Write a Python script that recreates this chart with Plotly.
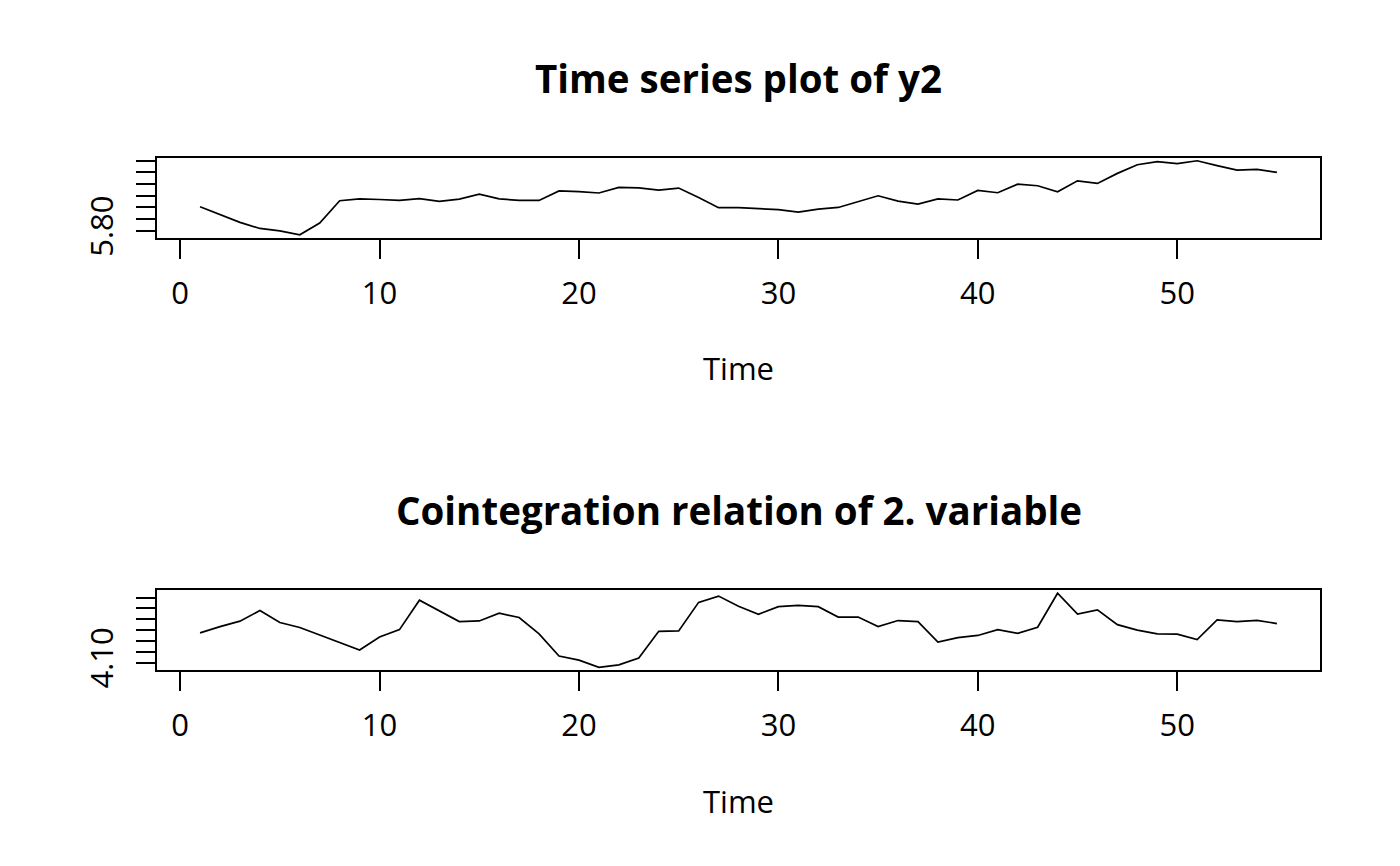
import plotly.graph_objects as go

# time index 1..55
time_idx = list(range(1, 56))

# series
y2 = [5.903, 5.869, 5.836, 5.810, 5.800, 5.783, 5.833, 5.929, 5.937, 5.934,
      5.930, 5.938, 5.926, 5.936, 5.957, 5.937, 5.930, 5.930, 5.971, 5.968,
      5.962, 5.986, 5.984, 5.974, 5.983, 5.943, 5.899, 5.899, 5.896, 5.891,
      5.880, 5.893, 5.900, 5.924, 5.950, 5.927, 5.914, 5.937, 5.932, 5.973,
      5.963, 6.000, 5.993, 5.967, 6.014, 6.003, 6.046, 6.083, 6.096, 6.088,
      6.100, 6.079, 6.060, 6.063, 6.050]

coint2 = [4.237, 4.266, 4.291, 4.340, 4.285, 4.262, 4.227, 4.194, 4.158, 4.218,
          4.252, 4.388, 4.338, 4.289, 4.292, 4.328, 4.308, 4.232, 4.130, 4.111,
          4.078, 4.089, 4.121, 4.244, 4.246, 4.378, 4.407, 4.360, 4.323, 4.358,
          4.364, 4.358, 4.310, 4.310, 4.266, 4.294, 4.289, 4.194, 4.215, 4.225,
          4.252, 4.235, 4.263, 4.420, 4.324, 4.343, 4.275, 4.250, 4.232, 4.231,
          4.206, 4.297, 4.289, 4.295, 4.280]

x_ticks = [0, 10, 20, 30, 40, 50]
y2_ticks = [5.80, 5.85, 5.90, 5.95, 6.00, 6.05, 6.10]
y2_ticktext = ["5.80", "", "", "", "", "", ""]   # R drops the overlapping labels
coint_ticks = [4.10, 4.15, 4.20, 4.25, 4.30, 4.35, 4.40]
coint_ticktext = ["4.10", "", "", "", "", "", ""]

titles = ["Time series plot of y2", "Cointegration relation of 2. variable"]

W, H = 1400, 866
FONT = "Open Sans"

# the page puts the plot a little off the corner and squeezes it a bit
# vertically, so map wanted screen pixels into paper fractions
OX, OY, HEFF = 8, 7, 848


def px_x(X):
    return (X - OX) / W


def px_y(Y):
    return 1 - (Y - OY) / HEFF


def r_range(vals):
    # R pads the data range by 4% on each side
    lo, hi = min(vals), max(vals)
    pad = (hi - lo) * 0.04
    return [lo - pad, hi + pad]


fig = go.Figure()
fig.add_trace(go.Scatter(x=time_idx, y=y2, mode="lines", line=dict(color="black", width=1.7),
                         xaxis="x", yaxis="y", showlegend=False))
fig.add_trace(go.Scatter(x=time_idx, y=coint2, mode="lines", line=dict(color="black", width=1.7),
                         xaxis="x2", yaxis="y2", showlegend=False))

xdom = [px_x(157), px_x(1320)]
axis_common = dict(showline=True, mirror=True, linecolor="black", linewidth=1.6,
                   ticks="outside", ticklen=19, tickwidth=1.6, tickcolor="black",
                   showgrid=False, zeroline=False,
                   tickfont=dict(family=FONT, size=31, color="black"))

fig.update_layout(
    width=W, height=H,
    paper_bgcolor="white", plot_bgcolor="white",
    margin=dict(l=0, r=0, t=0, b=0),
    xaxis=dict(domain=xdom, range=r_range(time_idx), tickvals=x_ticks, ticklabelstandoff=8,
               anchor="y", **axis_common),
    yaxis=dict(domain=[px_y(237), px_y(157)], range=r_range(y2), tickvals=y2_ticks,
               ticktext=y2_ticktext, tickangle=-90, ticklabelstandoff=11, anchor="x", **axis_common),
    xaxis2=dict(domain=xdom, range=r_range(time_idx), tickvals=x_ticks, ticklabelstandoff=8,
                anchor="y2", **axis_common),
    yaxis2=dict(domain=[px_y(670), px_y(590)], range=r_range(coint2), tickvals=coint_ticks,
                ticktext=coint_ticktext, tickangle=-90, ticklabelstandoff=11, anchor="x2", **axis_common),
)

xc = px_x((157 + 1320) / 2)
for txt, ypx in zip(titles, [77, 510]):
    fig.add_annotation(text="<b>" + txt + "</b>", x=xc, y=px_y(ypx), xref="paper", yref="paper",
                       showarrow=False, xanchor="center", yanchor="middle",
                       font=dict(family=FONT, size=38.5, color="black"))
for ypx in [367, 801]:
    fig.add_annotation(text="Time", x=xc, y=px_y(ypx), xref="paper", yref="paper",
                       showarrow=False, xanchor="center", yanchor="middle",
                       font=dict(family=FONT, size=31, color="black"))

fig.write_html("out.html")
